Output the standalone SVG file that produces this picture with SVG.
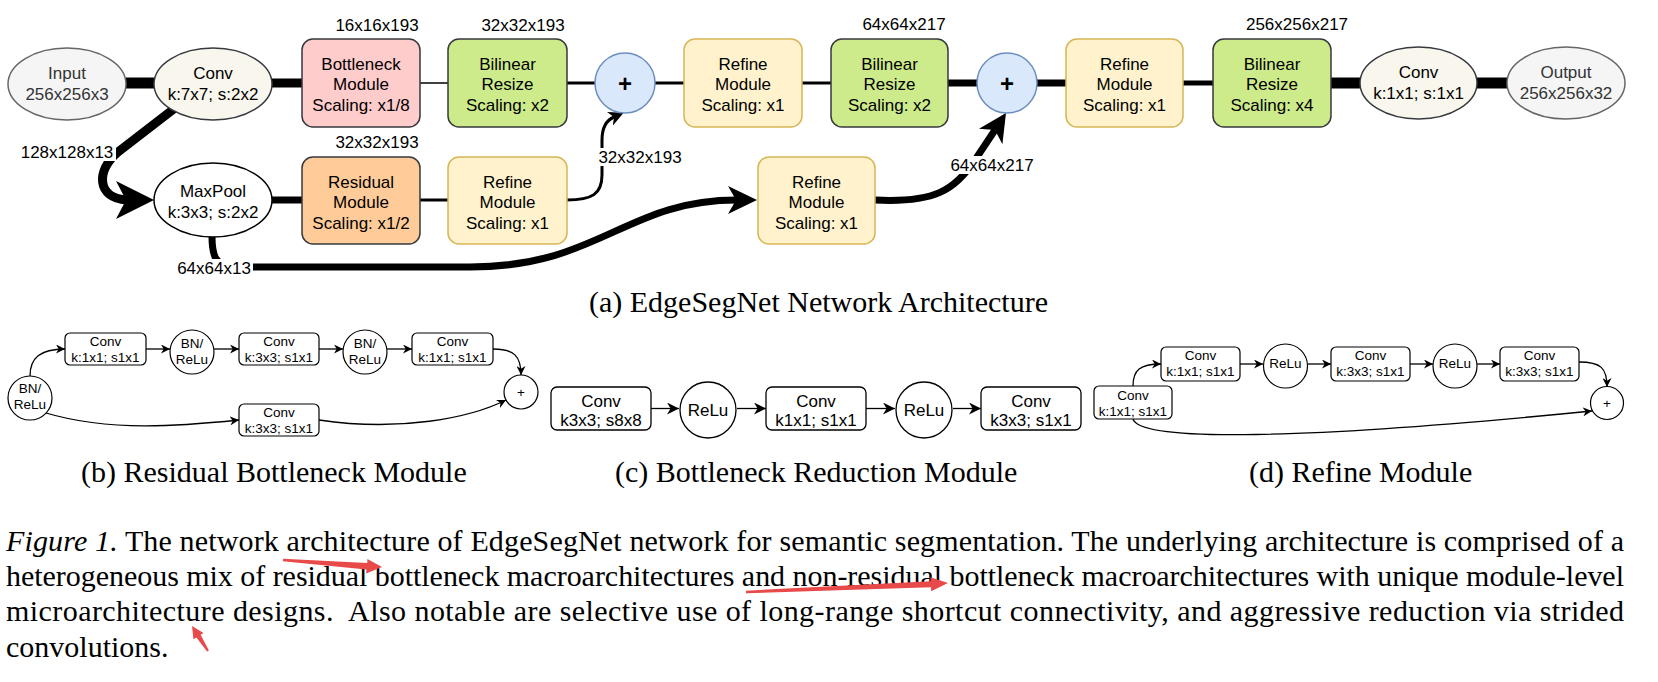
<svg xmlns="http://www.w3.org/2000/svg" width="1658" height="682" viewBox="0 0 1658 682">
<style>
.t{font-family:"Liberation Sans",Arial,sans-serif;fill:#000;text-anchor:middle}
.m{font-size:17px}
.s{font-size:13.5px}
.c17{font-size:17px}
.g{fill:#333}
.cap{font-family:"Liberation Serif","Times New Roman",serif;font-size:30px;fill:#000}
.ln{fill:none;stroke:#000}
.wb{fill:#fff}
.bx{stroke-width:1.5}
.thin{fill:none;stroke:#000;stroke-width:1.3}
</style>
<defs>
<marker id="a" viewBox="0 0 10 10" refX="10" refY="5" markerWidth="9" markerHeight="9" markerUnits="userSpaceOnUse" orient="auto"><path d="M0,0 L10,5 L0,10 L3,5 z" fill="#000"/></marker>
<marker id="a2" viewBox="0 0 10 10" refX="10" refY="5" markerWidth="12" markerHeight="12" markerUnits="userSpaceOnUse" orient="auto"><path d="M0,0 L10,5 L0,10 L3,5 z" fill="#000"/></marker>
<marker id="a3" viewBox="0 0 10 10" refX="3" refY="5" markerWidth="15" markerHeight="15" markerUnits="userSpaceOnUse" orient="auto"><path d="M0,0 L10,5 L0,10 L3,5 z" fill="#000"/></marker>
</defs>

<!-- connectors (a) -->
<g id="connectors-a">
<line class="ln" x1="126" y1="83" x2="154" y2="83" stroke-width="11"/>
<line class="ln" x1="272" y1="83" x2="302" y2="83" stroke-width="9"/>
<line class="ln" x1="420" y1="83" x2="448" y2="83" stroke-width="1.5"/>
<line class="ln" x1="567" y1="83" x2="595" y2="83" stroke-width="3"/>
<line class="ln" x1="655" y1="83" x2="684" y2="83" stroke-width="3"/>
<line class="ln" x1="802" y1="83" x2="831" y2="83" stroke-width="3"/>
<line class="ln" x1="948" y1="83" x2="977" y2="83" stroke-width="7"/>
<line class="ln" x1="1037" y1="83" x2="1066" y2="83" stroke-width="7"/>
<line class="ln" x1="1183" y1="83" x2="1213" y2="83" stroke-width="5"/>
<line class="ln" x1="1331" y1="83" x2="1360" y2="83" stroke-width="11"/>
<line class="ln" x1="1477" y1="83" x2="1507" y2="83" stroke-width="11"/>
<line class="ln" x1="272" y1="200" x2="302" y2="200" stroke-width="7"/>
<line class="ln" x1="420" y1="200" x2="448" y2="200" stroke-width="3"/>
<path class="ln" d="M175 108 L118 152 C96 170 96 198 127 200" stroke-width="9"/>
<polygon points="154,200 116,181 126,200 116,219" fill="#000"/>
<path class="ln" d="M212 236 C212 255 215 267 235 267 L470 267 C600 267 625 200 737 200" stroke-width="7"/>
<polygon points="757,200 728,186 736,200 728,214" fill="#000"/>
<path class="ln" d="M875 200 C935 203 955 190 975 160 L995 130" stroke-width="7"/>
<polygon points="1006,113 1002.4,144.2 995,130 979,128.8" fill="#000"/>
<path class="ln" d="M567 200 C592 200 602 194 602 175 L602 140 C602 127 607 120 614 117" stroke-width="3" marker-end="url(#a3)"/>
</g>

<!-- nodes (a) -->
<g id="input"><ellipse cx="67" cy="84" rx="59" ry="36" fill="#f5f5f5" stroke="#666" class="bx"/><text class="t m g" x="67" y="79">Input</text><text class="t m g" x="67" y="100">256x256x3</text></g>
<g id="conv1"><ellipse cx="213" cy="84" rx="59" ry="36" fill="#f9f7ed" stroke="#36393d" class="bx"/><text class="t m" x="213" y="79">Conv</text><text class="t m" x="213" y="100">k:7x7; s:2x2</text></g>
<g id="bottleneck"><rect x="302" y="39" width="118" height="88" rx="11" fill="#ffcccc" stroke="#36393d" class="bx"/><text class="t m" x="361" y="69.5">Bottleneck</text><text class="t m" x="361" y="90">Module</text><text class="t m" x="361" y="110.5">Scaling: x1/8</text></g>
<g id="bilinear1"><rect x="448" y="39" width="119" height="88" rx="11" fill="#cdeb8b" stroke="#36393d" class="bx"/><text class="t m" x="507.5" y="69.5">Bilinear</text><text class="t m" x="507.5" y="90">Resize</text><text class="t m" x="507.5" y="110.5">Scaling: x2</text></g>
<g id="plus1"><circle cx="625" cy="83" r="30" fill="#dae8fc" stroke="#6c8ebf" class="bx"/><text class="t" x="625" y="91.5" style="font-size:24px;font-weight:bold">+</text></g>
<g id="refine1"><rect x="684" y="39" width="118" height="88" rx="11" fill="#fff2cc" stroke="#d6b656" class="bx"/><text class="t m" x="743" y="69.5">Refine</text><text class="t m" x="743" y="90">Module</text><text class="t m" x="743" y="110.5">Scaling: x1</text></g>
<g id="bilinear2"><rect x="831" y="39" width="117" height="88" rx="11" fill="#cdeb8b" stroke="#36393d" class="bx"/><text class="t m" x="889.5" y="69.5">Bilinear</text><text class="t m" x="889.5" y="90">Resize</text><text class="t m" x="889.5" y="110.5">Scaling: x2</text></g>
<g id="plus2"><circle cx="1007" cy="83" r="30" fill="#dae8fc" stroke="#6c8ebf" class="bx"/><text class="t" x="1007" y="91.5" style="font-size:24px;font-weight:bold">+</text></g>
<g id="refine3"><rect x="1066" y="39" width="117" height="88" rx="11" fill="#fff2cc" stroke="#d6b656" class="bx"/><text class="t m" x="1124.5" y="69.5">Refine</text><text class="t m" x="1124.5" y="90">Module</text><text class="t m" x="1124.5" y="110.5">Scaling: x1</text></g>
<g id="bilinear3"><rect x="1213" y="39" width="118" height="88" rx="11" fill="#cdeb8b" stroke="#36393d" class="bx"/><text class="t m" x="1272" y="69.5">Bilinear</text><text class="t m" x="1272" y="90">Resize</text><text class="t m" x="1272" y="110.5">Scaling: x4</text></g>
<g id="conv2"><ellipse cx="1418.5" cy="83" rx="58.5" ry="36" fill="#f9f7ed" stroke="#36393d" class="bx"/><text class="t m" x="1418.5" y="78">Conv</text><text class="t m" x="1418.5" y="99">k:1x1; s:1x1</text></g>
<g id="output"><ellipse cx="1566" cy="83" rx="59" ry="36" fill="#f5f5f5" stroke="#666" class="bx"/><text class="t m g" x="1566" y="78">Output</text><text class="t m g" x="1566" y="99">256x256x32</text></g>
<g id="maxpool"><ellipse cx="213" cy="200" rx="59" ry="37" fill="#fff" stroke="#000" class="bx"/><text class="t m" x="213" y="197">MaxPool</text><text class="t m" x="213" y="218">k:3x3; s:2x2</text></g>
<g id="residual"><rect x="302" y="157" width="118" height="87" rx="11" fill="#ffcc99" stroke="#36393d" class="bx"/><text class="t m" x="361" y="187.5">Residual</text><text class="t m" x="361" y="208">Module</text><text class="t m" x="361" y="228.5">Scaling: x1/2</text></g>
<g id="refine2"><rect x="448" y="157" width="119" height="87" rx="11" fill="#fff2cc" stroke="#d6b656" class="bx"/><text class="t m" x="507.5" y="187.5">Refine</text><text class="t m" x="507.5" y="208">Module</text><text class="t m" x="507.5" y="228.5">Scaling: x1</text></g>
<g id="refine4"><rect x="758" y="157" width="117" height="87" rx="11" fill="#fff2cc" stroke="#d6b656" class="bx"/><text class="t m" x="816.5" y="187.5">Refine</text><text class="t m" x="816.5" y="208">Module</text><text class="t m" x="816.5" y="228.5">Scaling: x1</text></g>

<!-- dimension labels -->
<g id="labels">
<text class="t m" x="377" y="31">16x16x193</text>
<text class="t m" x="523" y="31">32x32x193</text>
<text class="t m" x="904" y="30">64x64x217</text>
<text class="t m" x="1297" y="30">256x256x217</text>
<text class="t m" x="377" y="148">32x32x193</text>
<rect class="wb" x="18" y="143" width="98" height="18"/><text class="t m" x="67" y="158">128x128x13</text>
<rect class="wb" x="176" y="259" width="77" height="18"/><text class="t m" x="214" y="274">64x64x13</text>
<rect class="wb" x="597" y="148" width="86" height="18"/><text class="t m" x="640" y="163">32x32x193</text>
<rect class="wb" x="949" y="156" width="87" height="18"/><text class="t m" x="992" y="171">64x64x217</text>
</g>

<text class="cap" x="589" y="312">(a) EdgeSegNet Network Architecture</text>

<!-- (b) Residual Bottleneck Module -->
<g id="connectors-b">
<path class="thin" d="M30 376 C30 358 40 349 65 349" marker-end="url(#a)"/>
<path class="thin" d="M146 349 L170 349" marker-end="url(#a)"/>
<path class="thin" d="M214 349 L239 349" marker-end="url(#a)"/>
<path class="thin" d="M319 349 L343 349" marker-end="url(#a)"/>
<path class="thin" d="M387 349 L412 349" marker-end="url(#a)"/>
<path class="thin" d="M493 349 C514 349 521 356 521 375" marker-end="url(#a)"/>
<path class="thin" d="M46 413 C110 432 180 426 239 420" marker-end="url(#a)"/>
<path class="thin" d="M319 420 C400 432 470 418 506 400" marker-end="url(#a)"/>
</g>
<g id="b-bn1"><circle cx="30" cy="398" r="22" fill="#fff" stroke="#000" stroke-width="1.2"/><text class="t s" x="30" y="393">BN/</text><text class="t s" x="30" y="409">ReLu</text></g>
<g id="b-conv1"><rect x="65" y="333" width="81" height="32" rx="5" fill="#fff" stroke="#000" stroke-width="1.2"/><text class="t s" x="105.5" y="346">Conv</text><text class="t s" x="105.5" y="362">k:1x1; s1x1</text></g>
<g id="b-bn2"><circle cx="192" cy="352" r="22" fill="#fff" stroke="#000" stroke-width="1.2"/><text class="t s" x="192" y="348">BN/</text><text class="t s" x="192" y="364">ReLu</text></g>
<g id="b-conv2"><rect x="239" y="333" width="80" height="32" rx="5" fill="#fff" stroke="#000" stroke-width="1.2"/><text class="t s" x="279" y="346">Conv</text><text class="t s" x="279" y="362">k:3x3; s1x1</text></g>
<g id="b-bn3"><circle cx="365" cy="352" r="22" fill="#fff" stroke="#000" stroke-width="1.2"/><text class="t s" x="365" y="348">BN/</text><text class="t s" x="365" y="364">ReLu</text></g>
<g id="b-conv3"><rect x="412" y="333" width="81" height="32" rx="5" fill="#fff" stroke="#000" stroke-width="1.2"/><text class="t s" x="452.5" y="346">Conv</text><text class="t s" x="452.5" y="362">k:1x1; s1x1</text></g>
<g id="b-plus"><circle cx="521" cy="392" r="17" fill="#fff" stroke="#000" stroke-width="1.2"/><text class="t s" x="521" y="397">+</text></g>
<g id="b-conv4"><rect x="239" y="404" width="80" height="32" rx="5" fill="#fff" stroke="#000" stroke-width="1.2"/><text class="t s" x="279" y="417">Conv</text><text class="t s" x="279" y="433">k:3x3; s1x1</text></g>
<text class="cap" x="81" y="482">(b) Residual Bottleneck Module</text>

<!-- (c) Bottleneck Reduction Module -->
<g id="connectors-c">
<path class="thin" d="M651 408.5 L679 408.5" marker-end="url(#a2)"/>
<path class="thin" d="M737 408.5 L766 408.5" marker-end="url(#a2)"/>
<path class="thin" d="M866 408.5 L895 408.5" marker-end="url(#a2)"/>
<path class="thin" d="M953 408.5 L981 408.5" marker-end="url(#a2)"/>
</g>
<g id="c-conv1"><rect x="551" y="387" width="100" height="43" rx="6" fill="#fff" stroke="#000" stroke-width="1.3"/><text class="t c17" x="601" y="407">Conv</text><text class="t c17" x="601" y="426">k3x3; s8x8</text></g>
<g id="c-relu1"><circle cx="708" cy="410" r="28" fill="#fff" stroke="#000" stroke-width="1.3"/><text class="t c17" x="708" y="416">ReLu</text></g>
<g id="c-conv2"><rect x="766" y="387" width="100" height="43" rx="6" fill="#fff" stroke="#000" stroke-width="1.3"/><text class="t c17" x="816" y="407">Conv</text><text class="t c17" x="816" y="426">k1x1; s1x1</text></g>
<g id="c-relu2"><circle cx="924" cy="410" r="28" fill="#fff" stroke="#000" stroke-width="1.3"/><text class="t c17" x="924" y="416">ReLu</text></g>
<g id="c-conv3"><rect x="981" y="387" width="100" height="43" rx="6" fill="#fff" stroke="#000" stroke-width="1.3"/><text class="t c17" x="1031" y="407">Conv</text><text class="t c17" x="1031" y="426">k3x3; s1x1</text></g>
<text class="cap" x="615" y="482">(c) Bottleneck Reduction Module</text>

<!-- (d) Refine Module -->
<g id="connectors-d">
<path class="thin" d="M1133 386 C1133 370 1140 364 1161 364" marker-end="url(#a)"/>
<path class="thin" d="M1240 364 L1263 364" marker-end="url(#a)"/>
<path class="thin" d="M1308 364 L1331 364" marker-end="url(#a)"/>
<path class="thin" d="M1410 364 L1433 364" marker-end="url(#a)"/>
<path class="thin" d="M1477 364 L1500 364" marker-end="url(#a)"/>
<path class="thin" d="M1579 362 C1601 362 1607 368 1607 387" marker-end="url(#a)"/>
<path class="thin" d="M1133 419 C1140 442 1300 440 1592 411" marker-end="url(#a)"/>
</g>
<g id="d-conv0"><rect x="1094" y="386" width="78" height="33" rx="5" fill="#fff" stroke="#000" stroke-width="1.2"/><text class="t s" x="1133" y="400">Conv</text><text class="t s" x="1133" y="416">k:1x1; s1x1</text></g>
<g id="d-conv1"><rect x="1161" y="347" width="79" height="34" rx="5" fill="#fff" stroke="#000" stroke-width="1.2"/><text class="t s" x="1200.5" y="360">Conv</text><text class="t s" x="1200.5" y="376">k:1x1; s1x1</text></g>
<g id="d-relu1"><circle cx="1285.5" cy="366" r="22" fill="#fff" stroke="#000" stroke-width="1.2"/><text class="t s" x="1285.5" y="368">ReLu</text></g>
<g id="d-conv2"><rect x="1331" y="347" width="79" height="34" rx="5" fill="#fff" stroke="#000" stroke-width="1.2"/><text class="t s" x="1370.5" y="360">Conv</text><text class="t s" x="1370.5" y="376">k:3x3; s1x1</text></g>
<g id="d-relu2"><circle cx="1455" cy="366" r="22" fill="#fff" stroke="#000" stroke-width="1.2"/><text class="t s" x="1455" y="368">ReLu</text></g>
<g id="d-conv3"><rect x="1500" y="347" width="79" height="34" rx="5" fill="#fff" stroke="#000" stroke-width="1.2"/><text class="t s" x="1539.5" y="360">Conv</text><text class="t s" x="1539.5" y="376">k:3x3; s1x1</text></g>
<g id="d-plus"><circle cx="1607" cy="403" r="16.5" fill="#fff" stroke="#000" stroke-width="1.2"/><text class="t s" x="1607" y="408">+</text></g>
<text class="cap" x="1249" y="482">(d) Refine Module</text>

<!-- figure caption -->
<g id="caption">
<text class="cap" x="6" y="551" textLength="1618" lengthAdjust="spacing"><tspan font-style="italic">Figure 1.</tspan> The network architecture of EdgeSegNet network for semantic segmentation. The underlying architecture is comprised of a</text>
<text class="cap" x="6" y="586" textLength="1618" lengthAdjust="spacing">heterogeneous mix of residual bottleneck macroarchitectures and non-residual bottleneck macroarchitectures with unique module-level</text>
<text class="cap" x="6" y="621" textLength="1618" lengthAdjust="spacing">microarchitecture designs.&#160; Also notable are selective use of long-range shortcut connectivity, and aggressive reduction via strided</text>
<text class="cap" x="6" y="657">convolutions.</text>
</g>

<!-- red annotation arrows -->
<g id="red-arrows" fill="#e84a4a">
<polygon points="282.8,561.3 366.4,569.5 366.2,573.5 382,567 367.4,559 367.2,563 283.2,558.7"/>
<polygon points="746.1,593.3 930.9,587.2 931.2,591.2 948,583 930.4,577.2 930.6,581.2 745.9,590.7"/>
<polygon points="208.9,650.5 200.6,634.8 203.5,632.9 192,626 193.5,639.3 196.4,637.4 207.1,651.5"/>
</g>
</svg>
